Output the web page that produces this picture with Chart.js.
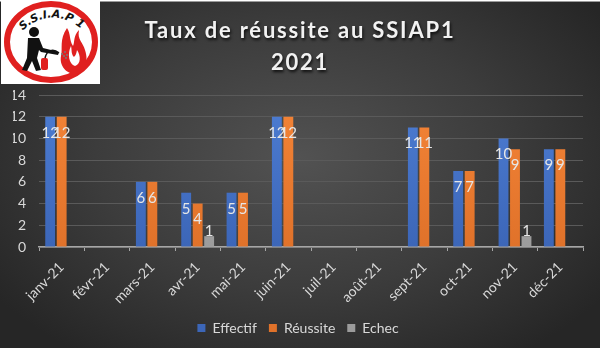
<!DOCTYPE html>
<html lang="fr">
<head>
<meta charset="utf-8">
<script src="https://cdn.jsdelivr.net/npm/chart.js@4"></script>
<style>
  html, body { margin: 0; padding: 0; background: #fff; }
  body { width: 600px; height: 352px; position: relative; overflow: hidden; font-family: Lato, 'Open Sans', sans-serif; }
  #wrap {
    position: absolute; left: 0; top: 1px; width: 600px; height: 347px;
    background: radial-gradient(ellipse 62% 70% at 50% 45%, #525252 0%, #3c3c3c 55%, #262626 100%);
    border-top: 1px solid #9a9a9a; box-sizing: border-box;
  }
  #wrap canvas { position: absolute; left: 0; top: 0; }
  .title {
    position: absolute; left: 0; width: 600px; text-align: center;
    color: #f2f2f2; font: bold 22px Lato, sans-serif; letter-spacing: 1.8px;
    text-shadow: 1px 2px 3px rgba(0,0,0,0.8);
  }
  #logo { position: absolute; left: 1px; top: 0; }
</style>
</head>
<body>
<div id="wrap">
  <canvas id="chart" width="600" height="347"></canvas>
  <div class="title" style="top:14px;">Taux de réussite au SSIAP1</div>
  <div class="title" style="top:46px;">2021</div>
</div>
<svg id="logo" width="99" height="84" viewBox="0 0 99 84">
  <rect x="0" y="0" width="99" height="84" fill="#fff"/>
  <ellipse cx="50" cy="42" rx="44" ry="38" fill="#fff" stroke="#e0201f" stroke-width="6"/>
  <defs><path id="arc" d="M 20 32 Q 50 4 82 30"/></defs>
  <text font-family="DejaVu Sans" font-weight="bold" font-style="italic" font-size="11" fill="#111">
    <textPath href="#arc" startOffset="50%" text-anchor="middle">S.S.I.A.P 1</textPath>
  </text>
  <!-- flame -->
  <path d="M66 28 C58 40 62 48 60 56 C58 66 66 74 74 74 C84 73 88 62 84 50 C82 42 76 40 78 30 C72 36 74 42 72 46 C68 40 70 34 66 28 Z" fill="#e0201f"/>
  <path d="M70 46 C66 54 68 64 74 66 C80 64 80 56 76 50 C75 56 73 58 72 56 C70 52 71 50 70 46 Z" fill="#fff"/>
  <!-- person -->
  <circle cx="33" cy="32" r="5" fill="#111"/>
  <path d="M27 38 L38 38 L42 48 L58 52 L57 55 L40 52 L38 50 L36 58 L40 70 L35 71 L31 61 L26 71 L21 70 L26 58 Z" fill="#111"/>
  <rect x="40" y="58" width="7" height="12" rx="2" fill="#e0201f"/>
  <path d="M44 58 C46 50 52 48 58 53" stroke="#111" stroke-width="1.5" fill="none"/>
  <g fill="#777"><circle cx="61" cy="54" r="1"/><circle cx="64" cy="52" r="1"/><circle cx="63" cy="56" r="1"/><circle cx="66" cy="55" r="1"/><circle cx="65" cy="58" r="1"/></g>
</svg>
<script>
const months = ['janv-21', 'févr-21', 'mars-21', 'avr-21', 'mai-21', 'juin-21', 'juil-21', 'août-21', 'sept-21', 'oct-21', 'nov-21', 'déc-21']
const effectif = [12, 0, 6, 5, 5, 12, 0, 0, 11, 7, 10, 9]
const reussite = [12, 0, 6, 4, 5, 12, 0, 0, 11, 7, 9, 9]
const echec = [0, 0, 0, 1, 0, 0, 0, 0, 0, 0, 1, 0]
const yMax = 14
const yStep = 2

const txt = '#d9d9d9'

function barFill(top, bottom) {
  return (c) => {
    const area = c.chart.chartArea
    if (!area) return top
    const g = c.chart.ctx.createLinearGradient(0, area.top, 0, area.bottom)
    g.addColorStop(0, top)
    g.addColorStop(1, bottom)
    return g
  }
}

// values printed on the bars, like the Excel data labels
const valueLabels = {
  id: 'valueLabels',
  afterDatasetsDraw(chart) {
    const ctx = chart.ctx
    ctx.save()
    ctx.font = '15px Lato, sans-serif'
    ctx.fillStyle = '#e6e6e6'
    ctx.textAlign = 'center'
    ctx.textBaseline = 'middle'
    chart.data.datasets.forEach((ds, i) => {
      chart.getDatasetMeta(i).data.forEach((bar, j) => {
        const v = ds.data[j]
        if (!v) return
        const y = v >= 2 ? bar.y + 16 : bar.y - 5
        ctx.fillText(String(v), bar.x, y)
      })
    })
    ctx.restore()
  },
}

new Chart(document.getElementById('chart'), {
  type: 'bar',
  data: {
    labels: months,
    datasets: [
      { label: 'Effectif', data: effectif, backgroundColor: barFill('#4d7dd3', '#3c66b8') },
      { label: 'Réussite', data: reussite, backgroundColor: barFill('#f48437', '#e0722a') },
      { label: 'Echec', data: echec, backgroundColor: barFill('#b4b4b4', '#9c9c9c') },
    ],
  },
  options: {
    responsive: false,
    animation: false,
    datasets: { bar: { categoryPercentage: 0.76, barPercentage: 0.86 } },
    layout: { padding: { left: 13, right: 17, top: 93, bottom: 4 } },
    plugins: {
      legend: {
        position: 'bottom',
        labels: { color: txt, font: { family: 'Lato', size: 14 }, boxWidth: 8, boxHeight: 8, padding: 12 },
      },
      tooltip: { enabled: false },
    },
    scales: {
      x: {
        grid: { display: true, drawOnChartArea: false, drawTicks: true, tickLength: 4, color: '#a6a6a6' },
        border: { color: '#a6a6a6', width: 1.5 },
        ticks: { color: txt, font: { family: 'Lato', size: 14 }, minRotation: 45, maxRotation: 45, padding: 8 },
        afterFit(s) { s.height = 62 },
      },
      y: {
        min: 0,
        max: yMax,
        grid: { color: '#5a5a5a', drawTicks: false },
        border: { display: false },
        ticks: { stepSize: yStep, color: txt, font: { family: 'Lato', size: 14 }, padding: 13 },
        afterFit(s) { s.width = 26 },
      },
    },
  },
  plugins: [valueLabels],
})
</script>
</body>
</html>
